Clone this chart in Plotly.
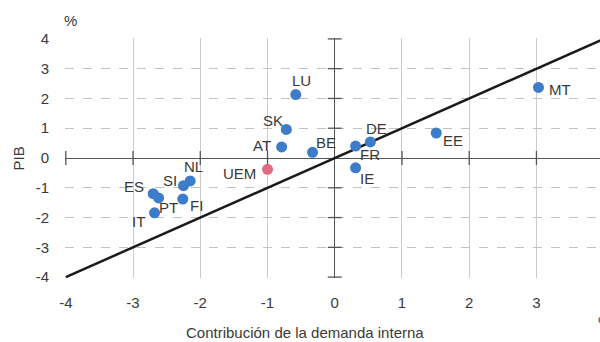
import plotly.graph_objects as go

# ---- data ----
countries = ["LU", "SK", "AT", "UEM", "NL", "SI", "ES", "PT", "FI", "IT",
             "BE", "DE", "FR", "EE", "MT", "IE"]
demanda_interna = [-0.58, -0.72, -0.79, -1.00, -2.15, -2.25, -2.70, -2.62, -2.26, -2.68,
                   -0.33, 0.53, 0.31, 1.51, 3.03, 0.31]
pib = [2.13, 0.96, 0.37, -0.38, -0.77, -0.93, -1.20, -1.34, -1.38, -1.84,
       0.19, 0.54, 0.40, 0.84, 2.37, -0.33]
x_ticks = [-4, -3, -2, -1, 0, 1, 2, 3, 4]
x_tick_labels = ["-4", "-3", "-2", "-1", "0", "1", "2", "3", "4"]
y_ticks = [-4, -3, -2, -1, 0, 1, 2, 3, 4]
y_tick_labels = ["-4", "-3", "-2", "-1", "0", "1", "2", "3", "4"]
diag_x = [-4, 4]
diag_y = [-4, 4]

# label offsets in pixels (style)
label_shift = {
    "LU": (6, 14), "SK": (-13, 9), "AT": (-20, 1), "UEM": (-28, -4),
    "NL": (3, 14), "SI": (-13, 5), "ES": (-19, 7), "PT": (10, -10),
    "FI": (14, -6), "IT": (-16, -9), "BE": (13, 10), "DE": (6, 13),
    "FR": (14, -8), "EE": (17, -8), "MT": (22, -2), "IE": (11, -11),
}

FONT = "Liberation Sans, Arial, sans-serif"
TXT = "#3a3a3a"
BLUE = "#3d7cc9"
RED = "#e06a7e"
AXC = "#555555"

fig = go.Figure()

# diagonal line
fig.add_trace(go.Scatter(x=diag_x, y=diag_y, mode="lines",
                         line=dict(color="#1a1a1a", width=2.5),
                         hoverinfo="skip", showlegend=False))

# tick marks on the zero axes
xt = [v for v in x_ticks if v != 0 and v < 4]
yt = [v for v in y_ticks if v != 0]
fig.add_trace(go.Scatter(x=xt, y=[0] * len(xt), mode="markers",
                         marker=dict(symbol="line-ns-open", size=10, color=AXC,
                                     line=dict(color=AXC, width=1.3)),
                         cliponaxis=False, hoverinfo="skip", showlegend=False))
fig.add_trace(go.Scatter(x=[0] * len(yt), y=yt, mode="markers",
                         marker=dict(symbol="line-ew-open", size=10, color=AXC,
                                     line=dict(color=AXC, width=1.3)),
                         cliponaxis=False, hoverinfo="skip", showlegend=False))

colors = [RED if c == "UEM" else BLUE for c in countries]
fig.add_trace(go.Scatter(x=demanda_interna, y=pib, mode="markers",
                         marker=dict(size=11, color=colors, line=dict(width=0)),
                         cliponaxis=False, showlegend=False))

for c, xv, yv in zip(countries, demanda_interna, pib):
    dx, dy = label_shift[c]
    fig.add_annotation(x=xv, y=yv, text=c, showarrow=False,
                       xshift=dx, yshift=dy,
                       xanchor="center", yanchor="middle",
                       font=dict(family=FONT, size=15, color=TXT))

# partially visible tick label "4" at right edge
fig.add_annotation(x=4, y=0, xref="x", yref="paper", text="4", showarrow=False,
                   xanchor="center", yanchor="middle", yshift=-22,
                   font=dict(family=FONT, size=15, color=TXT))

# axis titles
common = dict(xref="paper", yref="paper", showarrow=False, yanchor="middle",
              font=dict(family=FONT, size=15, color=TXT))
fig.add_annotation(x=-0.087, y=0.5, text="PIB", textangle=-90,
                   xanchor="center", **common)
fig.add_annotation(x=0.011, y=1.075, text="%", xanchor="center", **common)
fig.add_annotation(x=0.449, y=-0.229, text="Contribución de la demanda interna",
                   xanchor="center", **common)
fig.add_annotation(x=0.993, y=-0.18, text="%", xanchor="left", **common)

fig.update_layout(
    template="none",
    width=600, height=342,
    margin=dict(l=65, r=0, t=38, b=64, pad=0),
    paper_bgcolor="white", plot_bgcolor="white",
    font=dict(family=FONT, size=15, color=TXT),
    xaxis=dict(range=[-4.012, 3.945], tickvals=x_ticks, ticktext=x_tick_labels,
               showgrid=True, gridcolor="#cccccc", gridwidth=1,
               zeroline=True, zerolinecolor=AXC, zerolinewidth=1.3,
               ticks="outside", ticklen=11, tickcolor="rgba(0,0,0,0)",
               showline=False, fixedrange=True, automargin=False,
               tickfont=dict(family=FONT, size=15, color=TXT)),
    yaxis=dict(range=[-4.03, 4.03], tickvals=y_ticks, ticktext=y_tick_labels,
               showgrid=True, gridcolor="#c2c2c2", gridwidth=1, griddash="dash",
               zeroline=True, zerolinecolor=AXC, zerolinewidth=1.3,
               ticks="outside", ticklen=12, tickcolor="rgba(0,0,0,0)",
               showline=False, fixedrange=True, automargin=False,
               tickfont=dict(family=FONT, size=15, color=TXT)),
)

fig.write_html("out.html", config={"displayModeBar": False},
               post_script="document.body.style.margin='0';")
